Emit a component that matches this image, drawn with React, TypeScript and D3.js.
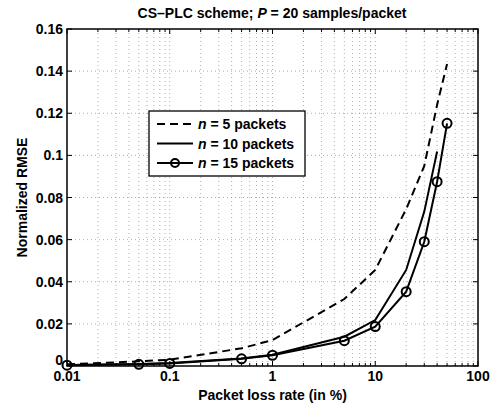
import React from "react";
import * as d3 from "d3";

const xN15 = [0.01, 0.05, 0.1, 0.5, 1, 5, 10, 20, 30, 40, 50];
const yN15 = [0.0004, 0.0008, 0.0012, 0.0034, 0.0051, 0.012, 0.0187, 0.0353, 0.059, 0.0875, 0.1152];
const xN10 = [0.01, 0.05, 0.1, 0.5, 1, 5, 10, 20, 30, 40];
const yN10 = [0.0005, 0.0009, 0.0014, 0.0036, 0.0053, 0.0139, 0.0218, 0.0456, 0.0733, 0.1018];
const xN5 = [0.01, 0.05, 0.1, 0.5, 1, 5, 10, 20, 30, 40, 50];
const yN5 = [0.0008, 0.0022, 0.003, 0.0084, 0.0123, 0.0318, 0.0456, 0.0745, 0.095, 0.124, 0.1434];

const xTicks = [0.01, 0.1, 1, 10, 100];
const xTickLabels = ["0.01", "0.1", "1", "10", "100"];
const yTicks = [0, 0.02, 0.04, 0.06, 0.08, 0.1, 0.12, 0.14, 0.16];
const yTickLabels = ["0", "0.02", "0.04", "0.06", "0.08", "0.1", "0.12", "0.14", "0.16"];
const legendLabels = ["5", "10", "15"];

const W = 494, H = 411;
const L = 67, R = 478, T = 29, B = 366;
const FONT = "'Liberation Sans', Arial, Helvetica, sans-serif";

export default function App() {
  const x = d3.scaleLog().domain([0.01, 100]).range([L, R]);
  const y = d3.scaleLinear().domain([0, 0.16]).range([B, T]);

  const minorX: number[] = [];
  for (let e = -2; e < 2; e++) {
    for (let m = 1; m <= 9; m++) minorX.push(m * Math.pow(10, e));
  }
  minorX.push(100);

  const line = d3.line<[number, number]>().x(d => x(d[0])).y(d => y(d[1]));
  const s15 = xN15.map((v, i) => [v, yN15[i]] as [number, number]);
  const s10 = xN10.map((v, i) => [v, yN10[i]] as [number, number]);
  const s5 = xN5.map((v, i) => [v, yN5[i]] as [number, number]);

  const gridStyle = { stroke: "#777", strokeWidth: 0.6, strokeDasharray: "1,3" };

  const legX = 149, legY = 111, legW = 156, legH = 65;
  const rows = [124, 143.5, 163];

  return (
    <svg width={W} height={H} style={{ position: "absolute", left: 0, top: 0 }} fontFamily={FONT}>
      <rect x={0} y={0} width={W} height={H} fill="#fff" />
      {/* grid */}
      {minorX.filter(v => v > 0.01 && v < 100).map((v, i) => (
        <line key={"gx" + i} x1={x(v)} x2={x(v)} y1={T} y2={B} {...gridStyle} />
      ))}
      {yTicks.filter(v => v > 0 && v < 0.16).map((v, i) => (
        <line key={"gy" + i} x1={L} x2={R} y1={y(v)} y2={y(v)} {...gridStyle} />
      ))}
      {/* ticks */}
      {minorX.map((v, i) => {
        const major = xTicks.some(t => Math.abs(Math.log10(t) - Math.log10(v)) < 1e-9);
        const len = major ? 5 : 3;
        return (
          <g key={"tx" + i} stroke="#000" strokeWidth={1}>
            <line x1={x(v)} x2={x(v)} y1={B} y2={B - len} />
            <line x1={x(v)} x2={x(v)} y1={T} y2={T + len} />
          </g>
        );
      })}
      {yTicks.map((v, i) => (
        <g key={"ty" + i} stroke="#000" strokeWidth={1}>
          <line x1={L} x2={L + 5} y1={y(v)} y2={y(v)} />
          <line x1={R} x2={R - 5} y1={y(v)} y2={y(v)} />
        </g>
      ))}
      <rect x={L} y={T} width={R - L} height={B - T} fill="none" stroke="#000" strokeWidth={1.5} />
      {/* tick labels */}
      {xTicks.map((v, i) => (
        <text key={"xl" + i} x={x(v)} y={381} textAnchor="middle" fontSize={14} fontWeight="bold">{xTickLabels[i]}</text>
      ))}
      {yTicks.map((v, i) => (
        <text key={"yl" + i} x={L - 4} y={y(v) + (i === 0 ? -1 : 5)} textAnchor="end" fontSize={14} fontWeight="bold">{yTickLabels[i]}</text>
      ))}
      {/* data */}
      <path d={line(s5) || ""} fill="none" stroke="#000" strokeWidth={2} strokeDasharray="8,5" />
      <path d={line(s10) || ""} fill="none" stroke="#000" strokeWidth={2} />
      <path d={line(s15) || ""} fill="none" stroke="#000" strokeWidth={2} />
      {s15.map((d, i) => (
        <circle key={"c" + i} cx={x(d[0])} cy={y(d[1])} r={4.5} fill="none" stroke="#000" strokeWidth={2} />
      ))}
      {/* legend */}
      <rect x={legX} y={legY} width={legW} height={legH} fill="#fff" stroke="#000" strokeWidth={1.3} />
      <line x1={157} x2={193} y1={rows[0]} y2={rows[0]} stroke="#000" strokeWidth={2} strokeDasharray="8,5" />
      <line x1={157} x2={193} y1={rows[1]} y2={rows[1]} stroke="#000" strokeWidth={2} />
      <line x1={157} x2={193} y1={rows[2]} y2={rows[2]} stroke="#000" strokeWidth={2} />
      <circle cx={175} cy={rows[2]} r={4} fill="none" stroke="#000" strokeWidth={2} />
      {legendLabels.map((l, i) => (
        <text key={"lg" + i} x={198} y={rows[i] + 5} fontSize={14} fontWeight="bold">
          <tspan fontStyle="italic">n</tspan> = {l} packets
        </text>
      ))}
      {/* title and axis labels */}
      <text x={272} y={18} textAnchor="middle" fontSize={14} fontWeight="bold">
        CS–PLC scheme; <tspan fontStyle="italic">P</tspan> = 20 samples/packet
      </text>
      <text x={272.5} y={400} textAnchor="middle" fontSize={14} fontWeight="bold">Packet loss rate (in %)</text>
      <text transform={`translate(27,${(T + B) / 2}) rotate(-90)`} textAnchor="middle" fontSize={14} fontWeight="bold">Normalized RMSE</text>
    </svg>
  );
}
